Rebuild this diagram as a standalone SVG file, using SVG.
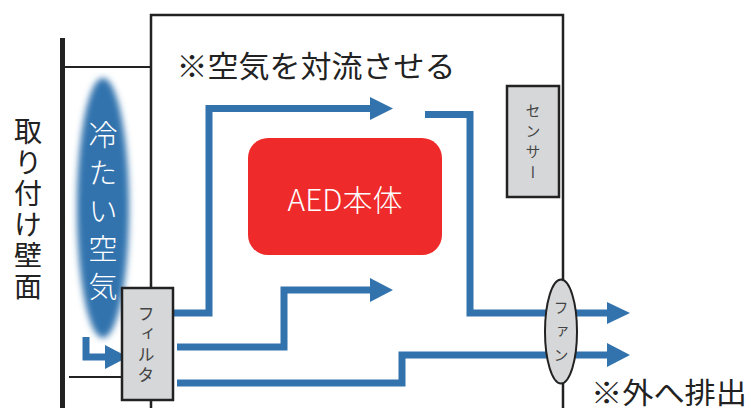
<svg xmlns="http://www.w3.org/2000/svg" width="751" height="408" viewBox="0 0 751 408">
<style>
.t{font-family:"Noto Sans CJK JP","Noto Sans",sans-serif;fill:#222;text-anchor:middle;dominant-baseline:central}
.v{font-family:"Noto Sans CJK JP","Noto Sans",sans-serif;writing-mode:vertical-rl}
.flow{fill:none;stroke:#3273ae;stroke-width:7}
.head{fill:#3273ae}
.line{stroke:#222;fill:none}
.box{fill:#d6d7d9;stroke:#222;stroke-width:2.5}
</style>
<defs>
<filter id="blur" x="-50%" y="-20%" width="200%" height="140%"><feGaussianBlur stdDeviation="3"/></filter>
</defs>
<rect width="751" height="408" fill="#fff"/>
<g id="wall">
<line class="line" x1="62.5" y1="38" x2="62.5" y2="408" stroke-width="5"/>
<line class="line" x1="65" y1="67" x2="151" y2="67" stroke-width="2"/>
<line class="line" x1="69" y1="377" x2="122" y2="377" stroke-width="2"/>
<text class="v" x="28" y="117" font-size="28" letter-spacing="3" fill="#222">取り付け壁面</text>
</g>
<g id="enclosure">
<path class="line" d="M151,408 V15 H563 V408" stroke-width="2.5"/>
<text class="t" x="316" y="64" font-size="30" textLength="279" lengthAdjust="spacingAndGlyphs">※空気を対流させる</text>
</g>
<g id="cold-air">
<ellipse cx="103" cy="208" rx="26" ry="130" fill="#3273ae" filter="url(#blur)"/>
<text class="v" x="103" y="120" font-size="29" letter-spacing="9" fill="#fff" font-weight="300">冷たい空気</text>
</g>
<g id="aed">
<rect x="248" y="138" width="194" height="117" rx="20" fill="#ee2a2a"/>
<text class="t" x="345" y="198" font-size="30" style="fill:#fff;font-weight:300">AED本体</text>
</g>
<g id="sensor">
<rect class="box" x="507" y="86" width="52" height="111"/>
<text class="v" x="533" y="103" font-size="15" letter-spacing="5.5" fill="#444">センサー</text>
</g>
<g id="connectors">
<path class="flow" d="M86,337 V357 H106"/>
<polygon class="head" points="105,345 128,357 105,369"/>
<path class="flow" d="M173,313 H209 V108.5 H371"/>
<polygon class="head" points="370,97 393,108.5 370,120"/>
<path class="flow" d="M425,114.5 H470 V313 H608"/>
<polygon class="head" points="607,302 630,313 607,324"/>
<path class="flow" d="M177,347 H284 V290 H371"/>
<polygon class="head" points="370,278 393,290 370,302"/>
<path class="flow" d="M177,383 H402 V355 H608"/>
<polygon class="head" points="607,343 630,355 607,367"/>
</g>
<g id="filter">
<rect class="box" x="122" y="288" width="51" height="112"/>
<text class="v" x="146" y="305" font-size="17" letter-spacing="3.5" fill="#444">フィルタ</text>
</g>
<g id="fan">
<ellipse cx="561" cy="331.5" rx="16" ry="52" fill="#d6d7d9" stroke="#222" stroke-width="2"/>
<text class="v" x="561" y="300" font-size="15" letter-spacing="9" fill="#444">ファン</text>
</g>
<g id="exhaust-label">
<text class="t" x="669" y="391" font-size="29" textLength="156" lengthAdjust="spacingAndGlyphs">※外へ排出</text>
</g>
</svg>
